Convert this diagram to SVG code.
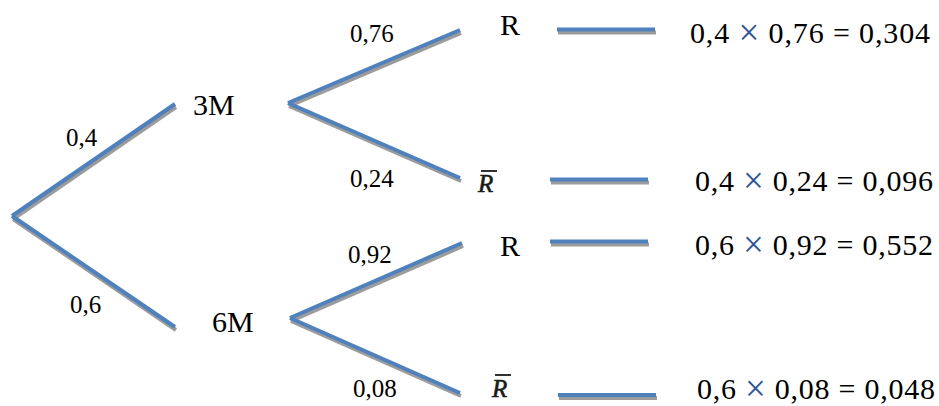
<svg xmlns="http://www.w3.org/2000/svg" xmlns:xlink="http://www.w3.org/1999/xlink" width="939" height="406" viewBox="0 0 939 406">
<style>
  .t { font-family: "Liberation Serif", "Times New Roman", serif; fill: #000; }
  .node { font-size: 30px; }
  .prob { font-size: 25px; }
  .eq { font-size: 30px; }
  .times { fill: #2f5597; font-size: 37px; }
  .rbar { font-family: "Liberation Serif", "Times New Roman", serif; font-style: italic; font-size: 25px; fill: #1a1a1a; stroke: #1a1a1a; stroke-width: 0.6px; }
  .bar { stroke: #1a1a1a; stroke-width: 1.8; }
  .shadow { stroke: #9c9c9c; stroke-width: 4; fill: none; stroke-linecap: butt; }
  .edge { stroke: #4f81bd; stroke-width: 4; fill: none; stroke-linecap: butt; }
</style>
<defs>
  <g id="edges">
    <path d="M12,216 L175,104"/>
    <path d="M12,216 L175,327"/>
    <path d="M288,103 L460,30"/>
    <path d="M288,103 L460,178"/>
    <path d="M290,318 L462,243"/>
    <path d="M290,318 L460,393"/>
    <path d="M557,29.5 L655,29.5"/>
    <path d="M550,179.5 L648,179.5"/>
    <path d="M550,241.5 L648,241.5"/>
    <path d="M558,395 L656,395"/>
  </g>
</defs>
<rect width="939" height="406" fill="#fff"/>
<g id="connectors">
  <use xlink:href="#edges" href="#edges" class="shadow" transform="translate(1,3)"/>
  <use xlink:href="#edges" href="#edges" class="edge"/>
  <g id="edge-labels" class="t prob">
    <text x="66" y="146">0,4</text>
    <text x="70" y="313">0,6</text>
    <text x="350" y="42">0,76</text>
    <text x="350" y="187">0,24</text>
    <text x="348" y="263">0,92</text>
    <text x="353" y="397">0,08</text>
  </g>
</g>
<g id="node-3M"><text class="t node" x="193" y="115">3M</text></g>
<g id="node-6M"><text class="t node" x="212" y="332">6M</text></g>
<g id="node-R1"><text class="t node" x="500" y="35">R</text></g>
<g id="node-Rbar1">
  <text class="rbar" x="478" y="192">R</text>
  <line class="bar" x1="481" y1="171" x2="497" y2="171"/>
</g>
<g id="node-R2"><text class="t node" x="500" y="256">R</text></g>
<g id="node-Rbar2">
  <text class="rbar" x="492" y="397">R</text>
  <line class="bar" x1="495" y1="375" x2="511" y2="375"/>
</g>
<g id="result-1"><text class="t eq" x="690" y="43" textLength="240" lengthAdjust="spacing">0,4 <tspan class="times" dy="2">×</tspan><tspan dy="-2"> 0,76 = 0,304</tspan></text></g>
<g id="result-2"><text class="t eq" x="695" y="191" textLength="238" lengthAdjust="spacing">0,4 <tspan class="times" dy="2">×</tspan><tspan dy="-2"> 0,24 = 0,096</tspan></text></g>
<g id="result-3"><text class="t eq" x="695" y="255" textLength="238" lengthAdjust="spacing">0,6 <tspan class="times" dy="2">×</tspan><tspan dy="-2"> 0,92 = 0,552</tspan></text></g>
<g id="result-4"><text class="t eq" x="697" y="399" textLength="238" lengthAdjust="spacing">0,6 <tspan class="times" dy="2">×</tspan><tspan dy="-2"> 0,08 = 0,048</tspan></text></g>
</svg>
